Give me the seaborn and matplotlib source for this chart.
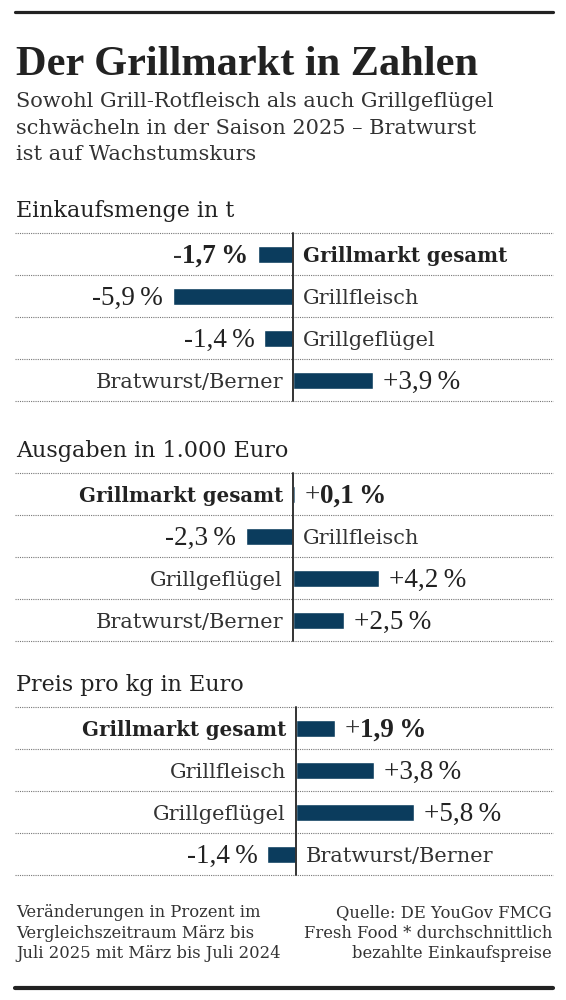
import numpy as np
import pandas as pd
import matplotlib
matplotlib.use('Agg')
import matplotlib.pyplot as plt
import seaborn as sns
from matplotlib.lines import Line2D
from matplotlib.transforms import offset_copy

# daten
kategorien = ['Grillmarkt gesamt', 'Grillfleisch', 'Grillgeflügel', 'Bratwurst/Berner']
einkaufsmenge = [-1.7, -5.9, -1.4, 3.9]
ausgaben = [0.1, -2.3, 4.2, 2.5]
preis_kg = [1.9, 3.8, 5.8, -1.4]

titel = 'Der Grillmarkt in Zahlen'
untertitel = ['Sowohl Grill-Rotfleisch als auch Grillgeflügel',
              'schwächeln in der Saison 2025 – Bratwurst',
              'ist auf Wachstumskurs']
panel_titel = ['Einkaufsmenge in t', 'Ausgaben in 1.000 Euro', 'Preis pro kg in Euro']
fuss_links = ['Veränderungen in Prozent im',
              'Vergleichszeitraum März bis',
              'Juli 2025 mit März bis Juli 2024']
fuss_rechts = ['Quelle: DE YouGov FMCG',
               'Fresh Food * durchschnittlich',
               'bezahlte Einkaufspreise']

NAVY = '#0b3c5d'
TXT = '#222222'
GRAU = '#333333'
W, H = 566, 1000
PX = 20.4  # pixel pro prozent
ZAHL = ['Liberation Serif', 'DejaVu Serif']
ZS = 19.5  # schriftgroesse zahlen

sns.set_style('white')
plt.rcParams['font.family'] = ['DejaVu Serif']

fig = plt.figure(figsize=(W / 100, H / 100), dpi=100)
renderer = fig.canvas.get_renderer()


def fx(x):
    return x / W


def fy(y):
    return 1 - y / H


# linien oben und unten
fig.add_artist(Line2D([fx(15), fx(553)], [fy(12), fy(12)], lw=2.3, color=TXT))
fig.add_artist(Line2D([fx(15), fx(553)], [fy(988), fy(988)], lw=3, color=TXT))

fig.text(fx(16), fy(75), titel, fontsize=30.5, fontweight='bold',
         family='Liberation Serif', color=TXT, va='baseline')
for i, z in enumerate(untertitel):
    fig.text(fx(16), fy(107 + i * 26.5), z, fontsize=15, color=GRAU, va='baseline')

panels = [einkaufsmenge, ausgaben, preis_kg]
oben = [233, 473, 707]
mitte = [293, 293, 296]


def wert_text(ax, x, y, v, ha, fett):
    vz = '+' if v > 0 else '-'
    zahl = f'{abs(v):.1f}'.replace('.', ',') + '\u2009%'
    if not fett:
        ax.text(x, y, vz + zahl, ha=ha, va='baseline', fontsize=ZS,
                family=ZAHL, color=TXT)
        return
    # vorzeichen normal, zahl fett
    if ha == 'left':
        t1 = ax.text(x, y, vz, ha='left', va='baseline', fontsize=ZS, family=ZAHL, color=GRAU)
        w = t1.get_window_extent(renderer).width * 72 / fig.dpi
        tr = offset_copy(ax.transData, fig=fig, x=w, y=0, units='points')
        ax.text(x, y, zahl, ha='left', va='baseline', fontsize=ZS, family=ZAHL,
                fontweight='bold', color=TXT, transform=tr)
    else:
        t2 = ax.text(x, y, zahl, ha='right', va='baseline', fontsize=ZS, family=ZAHL,
                     fontweight='bold', color=TXT)
        w = t2.get_window_extent(renderer).width * 72 / fig.dpi
        tr = offset_copy(ax.transData, fig=fig, x=-w, y=0, units='points')
        ax.text(x, y, vz, ha='right', va='baseline', fontsize=ZS, family=ZAHL,
                color=GRAU, transform=tr)


for p, werte in enumerate(panels):
    top = oben[p]
    fig.text(fx(16), fy(top - 16), panel_titel[p], fontsize=16, color=TXT, va='baseline')
    ax = fig.add_axes([fx(15), fy(top + 168), fx(553) - fx(15), 168 / H])
    df = pd.DataFrame({'kat': kategorien, 'wert': werte})
    sns.barplot(data=df, x='wert', y='kat', orient='h', color=NAVY, saturation=1,
                width=17 / 42, ax=ax)
    ax.set_xlim((15 - mitte[p]) / PX, (553 - mitte[p]) / PX)
    ax.set_ylim(3.5, -0.5)
    ax.axis('off')
    for yy in [-0.5, 0.5, 1.5, 2.5, 3.5]:
        ax.axhline(yy, color='#777777', lw=0.8, ls=(0, (1, 1)), clip_on=False)
    ax.axvline(0, color=GRAU, lw=1.4, clip_on=False)
    gap = 10 / PX
    for i, v in enumerate(werte):
        fett = i == 0
        if v < 0:
            xv, hv, xk, hk = v - gap, 'right', gap, 'left'
        else:
            xv, hv, xk, hk = v + gap, 'left', -gap, 'right'
        wert_text(ax, xv, i + 0.21, v, hv, fett)
        ax.text(xk, i + 0.19, kategorien[i], ha=hk, va='baseline',
                fontsize=14.2 if fett else 15,
                fontweight='bold' if fett else 'normal',
                color=TXT if fett else GRAU)

for i, z in enumerate(fuss_links):
    fig.text(fx(16), fy(917 + i * 20.5), z, fontsize=11.8, color=GRAU, va='baseline')
for i, z in enumerate(fuss_rechts):
    fig.text(fx(552), fy(917 + i * 20.5), z, fontsize=11.8, color=GRAU,
             va='baseline', ha='right')

fig.savefig('out.png', dpi=100)
